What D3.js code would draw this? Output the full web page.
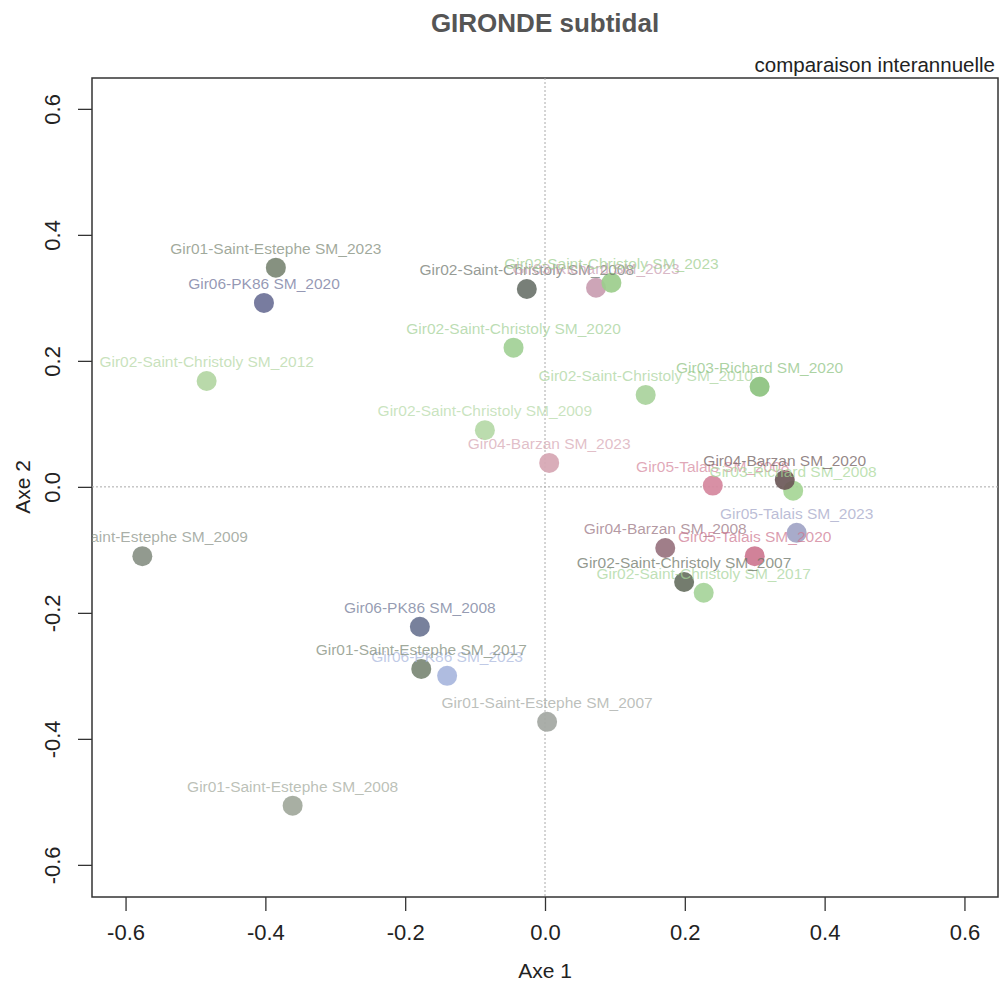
<!DOCTYPE html>
<html>
<head>
<meta charset="utf-8">
<script src="https://cdn.jsdelivr.net/npm/d3@7"></script>
<style>
  body { margin: 0; background: #fff; }
  text { font-family: "Liberation Sans", Arial, sans-serif; }
</style>
</head>
<body>
<svg id="chart" width="1003" height="987"></svg>
<script>
// station / year labels
var labels = [
  "Gir01-Saint-Estephe SM_2023",
  "Gir06-PK86 SM_2020",
  "Gir02-Saint-Christoly SM_2012",
  "Gir01-Saint-Estephe SM_2009",
  "Gir02-Saint-Christoly SM_2008",
  "Gir03-Richard SM_2023",
  "Gir02-Saint-Christoly SM_2023",
  "Gir02-Saint-Christoly SM_2020",
  "Gir02-Saint-Christoly SM_2010",
  "Gir03-Richard SM_2020",
  "Gir02-Saint-Christoly SM_2009",
  "Gir04-Barzan SM_2023",
  "Gir05-Talais SM_2008",
  "Gir03-Richard SM_2008",
  "Gir04-Barzan SM_2020",
  "Gir05-Talais SM_2023",
  "Gir04-Barzan SM_2008",
  "Gir05-Talais SM_2020",
  "Gir02-Saint-Christoly SM_2017",
  "Gir02-Saint-Christoly SM_2007",
  "Gir06-PK86 SM_2008",
  "Gir06-PK86 SM_2023",
  "Gir01-Saint-Estephe SM_2017",
  "Gir01-Saint-Estephe SM_2007",
  "Gir01-Saint-Estephe SM_2008"
];

var axe1 = [
  -0.385, -0.402, -0.484, -0.576, -0.026, 0.073, 0.095, -0.045, 0.144, 0.307,
  -0.086, 0.006, 0.240, 0.355, 0.343, 0.360, 0.172, 0.300, 0.227, 0.199,
  -0.179, -0.140, -0.177, 0.003, -0.361
];

var axe2 = [
  0.348, 0.292, 0.168, -0.110, 0.314, 0.316, 0.324, 0.221, 0.146, 0.159,
  0.090, 0.038, 0.002, -0.006, 0.011, -0.073, -0.097, -0.110, -0.168, -0.151,
  -0.222, -0.300, -0.289, -0.373, -0.506
];

var colors = [
  "#7c8875", "#6c7197", "#b3d6a3", "#899186", "#6d746c", "#c99db1", "#9ccd8c",
  "#a2d096", "#a9d39c", "#8cc27f", "#b5d9a7", "#d6a6b3", "#d5879d", "#a6d696",
  "#6b5858", "#a1a4c6", "#98737f", "#cd7790", "#a6d49a", "#687162",
  "#6d7694", "#a8b6dd", "#7b8875", "#a3a7a2", "#a1a89b"
];

var xTicks = [-0.6, -0.4, -0.2, 0.0, 0.2, 0.4, 0.6];
var yTicks = [-0.6, -0.4, -0.2, 0.0, 0.2, 0.4, 0.6];

var svg = d3.select("#chart");
var margin = { top: 78, right: 5, bottom: 90, left: 92 };
var width = +svg.attr("width") - margin.left - margin.right;
var height = +svg.attr("height") - margin.top - margin.bottom;

var x = d3.scaleLinear().domain([-0.648, 0.648]).range([0, width]);
var y = d3.scaleLinear().domain([-0.651, 0.649]).range([height, 0]);

var g = svg
  .append("g")
  .attr("transform", "translate(" + margin.left + "," + margin.top + ")");

g.append("clipPath")
  .attr("id", "clip")
  .append("rect")
  .attr("width", width)
  .attr("height", height);

// plain hyphen for negatives, like R
var fmt = function(d) { return d.toFixed(1); };

// x axis
var xAxis = g.append("g")
  .attr("transform", "translate(0," + height + ")")
  .call(d3.axisBottom(x).tickValues(xTicks).tickFormat(fmt).tickSize(14).tickPadding(13));
xAxis.select(".domain").remove();
xAxis.selectAll("line").attr("stroke", "#333").attr("stroke-width", 1.3);
xAxis.selectAll("text").attr("font-size", 22).attr("fill", "#222");

// y axis (labels rotated like base R)
var yAxis = g.append("g")
  .call(d3.axisLeft(y).tickValues(yTicks).tickFormat(fmt).tickSize(14));
yAxis.select(".domain").remove();
yAxis.selectAll("line").attr("stroke", "#333").attr("stroke-width", 1.3);
yAxis.selectAll("text")
  .attr("font-size", 22)
  .attr("fill", "#222")
  .attr("x", null)
  .attr("dy", null)
  .attr("text-anchor", "middle")
  .attr("transform", "translate(-32,0) rotate(-90)");

// frame
g.append("rect")
  .attr("width", width)
  .attr("height", height)
  .attr("fill", "none")
  .attr("stroke", "#333")
  .attr("stroke-width", 1.5);

// zero lines
g.append("line")
  .attr("x1", x(0)).attr("x2", x(0))
  .attr("y1", 0).attr("y2", height)
  .attr("stroke", "#aaa")
  .attr("stroke-dasharray", "2,2");
g.append("line")
  .attr("x1", 0).attr("x2", width)
  .attr("y1", y(0)).attr("y2", y(0))
  .attr("stroke", "#aaa")
  .attr("stroke-dasharray", "2,2");

var data = labels.map(function(d, i) {
  return { label: d, a1: axe1[i], a2: axe2[i], col: colors[i] };
});

var plot = g.append("g").attr("clip-path", "url(#clip)");

plot.selectAll(".pt")
  .data(data)
  .enter()
  .append("circle")
  .attr("class", "pt")
  .attr("cx", function(d) { return x(d.a1); })
  .attr("cy", function(d) { return y(d.a2); })
  .attr("r", 10)
  .attr("fill", function(d) { return d.col; })
  .attr("fill-opacity", 0.92);

plot.selectAll(".lab")
  .data(data)
  .enter()
  .append("text")
  .attr("class", "lab")
  .attr("x", function(d) { return x(d.a1); })
  .attr("y", function(d) { return y(d.a2) - 14; })
  .attr("text-anchor", "middle")
  .attr("font-size", 15.5)
  .attr("fill", function(d) { return d.col; })
  .attr("fill-opacity", 0.72)
  .text(function(d) { return d.label; });

// titles
svg.append("text")
  .attr("x", margin.left + width / 2)
  .attr("y", 32)
  .attr("text-anchor", "middle")
  .attr("font-size", 26)
  .attr("font-weight", "bold")
  .attr("fill", "#555")
  .text("GIRONDE subtidal");

svg.append("text")
  .attr("x", margin.left + width - 3)
  .attr("y", 72)
  .attr("text-anchor", "end")
  .attr("font-size", 20.5)
  .attr("fill", "#222")
  .text("comparaison interannuelle");

svg.append("text")
  .attr("x", margin.left + width / 2)
  .attr("y", 978)
  .attr("text-anchor", "middle")
  .attr("font-size", 21)
  .attr("fill", "#222")
  .text("Axe 1");

svg.append("text")
  .attr("transform", "translate(30," + (margin.top + y(0)) + ") rotate(-90)")
  .attr("text-anchor", "middle")
  .attr("font-size", 21)
  .attr("fill", "#222")
  .text("Axe 2");
</script>
</body>
</html>
